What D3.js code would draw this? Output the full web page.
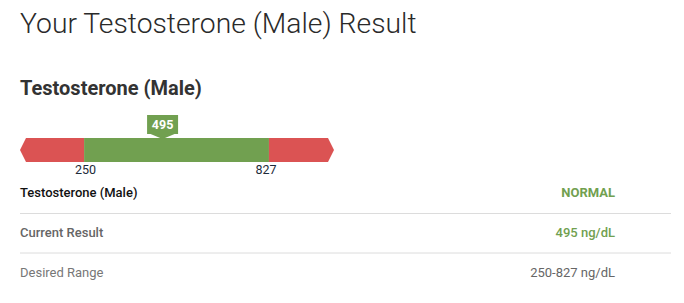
<!DOCTYPE html>
<html>
<head>
<meta charset="utf-8">
<script src="https://cdn.jsdelivr.net/npm/d3@7.9.0/dist/d3.min.js"></script>
<style>
  body { margin: 0; background: #fff; }
  svg { display: block; font-family: Roboto, "Noto Sans", sans-serif; }
</style>
</head>
<body>
<svg id="chart" width="684" height="303"></svg>
<script>
const testName = 'Testosterone (Male)';
const unit = 'ng/dL';
const result = 495;
const rangeLow = 250;
const rangeHigh = 827;
const scaleMin = 50;
const scaleMax = 1030;
const status = 'NORMAL';
const rowLabels = ['Testosterone (Male)', 'Current Result', 'Desired Range'];
const rowValues = [status, `${result} ${unit}`, `${rangeLow}-${rangeHigh} ${unit}`];

const red = '#db5353';
const green = '#71a050';

const svg = d3.select('#chart');

svg.append('text')
  .attr('x', 20).attr('y', 33)
  .attr('font-size', 28.3).attr('font-weight', 300)
  .attr('fill', '#2a2a2a')
  .text(`Your ${testName} Result`);

svg.append('text')
  .attr('x', 20).attr('y', 95)
  .attr('font-size', 20).attr('font-weight', 700)
  .attr('fill', '#333')
  .text(testName);

// gauge
let x = d3.scaleLinear().domain([scaleMin, scaleMax]).range([20, 334]);
const barTop = 138, barBot = 162, barMid = (barTop + barBot) / 2, tip = 6;

let segments = [
  { from: scaleMin, to: rangeLow, color: red },
  { from: rangeLow, to: rangeHigh, color: green },
  { from: rangeHigh, to: scaleMax, color: red }
];

let gauge = svg.append('g');
segments.forEach((s, i) => {
  let x0 = x(s.from), x1 = x(s.to);
  let pts;
  if (i === 0) {
    pts = [[x0, barMid], [x0 + tip, barTop], [x1, barTop], [x1, barBot], [x0 + tip, barBot]];
  } else if (i === segments.length - 1) {
    pts = [[x0, barTop], [x1 - tip, barTop], [x1, barMid], [x1 - tip, barBot], [x0, barBot]];
  } else {
    pts = [[x0, barTop], [x1, barTop], [x1, barBot], [x0, barBot]];
  }
  gauge.append('path')
    .attr('d', d3.line()(pts) + 'Z')
    .attr('fill', s.color);
});

gauge.selectAll('.tick-label')
  .data([rangeLow, rangeHigh])
  .join('text')
  .attr('class', 'tick-label')
  .attr('x', d => x(d))
  .attr('dx', (d, i) => i === 0 ? 1.5 : -3)
  .attr('y', 174)
  .attr('text-anchor', 'middle')
  .attr('font-size', 12.5)
  .attr('fill', '#1d2b3a')
  .text(d => d);

// result marker
let mx = x(result);
let mw = 31, mTop = 115, mBot = 134;
gauge.append('path')
  .attr('d', d3.line()([
    [mx - mw / 2, mTop], [mx + mw / 2, mTop], [mx + mw / 2, mBot],
    [mx + 12, mBot], [mx, barTop + 1], [mx - 12, mBot], [mx - mw / 2, mBot]
  ]) + 'Z')
  .attr('fill', green);
gauge.append('text')
  .attr('x', mx).attr('y', 128.5)
  .attr('text-anchor', 'middle')
  .attr('font-size', 12.5).attr('font-weight', 700)
  .attr('fill', '#fff')
  .text(result);

// table
const rowY = [197, 237, 277];
const labelStyle = [
  { fill: '#111', weight: 500 },
  { fill: '#666', weight: 500 },
  { fill: '#777', weight: 400 }
];
const valueStyle = [
  { fill: green, weight: 700 },
  { fill: green, weight: 500 },
  { fill: '#666', weight: 400 }
];

rowLabels.forEach((label, i) => {
  svg.append('text')
    .attr('x', 20).attr('y', rowY[i])
    .attr('font-size', 13)
    .attr('font-weight', labelStyle[i].weight)
    .attr('fill', labelStyle[i].fill)
    .text(label);
  svg.append('text')
    .attr('x', 615).attr('y', rowY[i])
    .attr('text-anchor', 'end')
    .attr('font-size', 13)
    .attr('font-weight', valueStyle[i].weight)
    .attr('fill', valueStyle[i].fill)
    .text(rowValues[i]);
});

svg.selectAll('.divider')
  .data([213.5, 253])
  .join('line')
  .attr('class', 'divider')
  .attr('x1', 20).attr('x2', 671)
  .attr('y1', d => d).attr('y2', d => d)
  .attr('stroke', '#dcdcdc')
  .attr('stroke-width', 1);
</script>
</body>
</html>
